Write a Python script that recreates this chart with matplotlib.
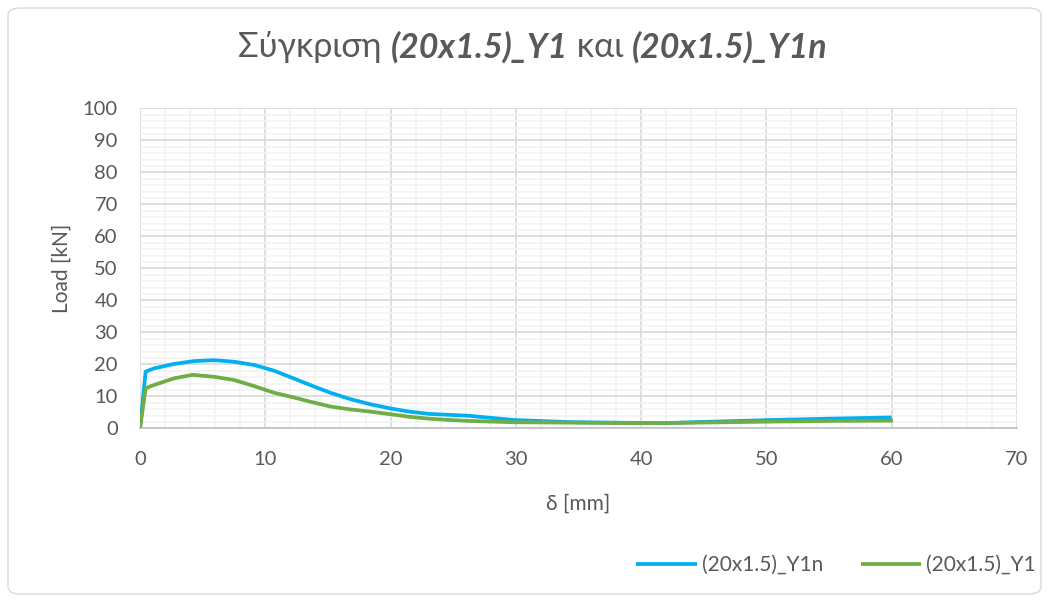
import matplotlib
matplotlib.use("Agg")
import matplotlib.pyplot as plt
from matplotlib.offsetbox import TextArea, HPacker, AnchoredOffsetbox
from matplotlib.patches import FancyBboxPatch
from matplotlib.ticker import MultipleLocator

plt.rcParams['font.family'] = ['Lato', 'DejaVu Sans']

# Load–displacement curves
delta_y1n = [0.0, 0.45, 1.1, 2.7, 4.3, 5.9, 7.5, 9.1, 10.7, 12.0, 13.6, 15.2, 16.8,
             18.4, 20.0, 21.5, 23.1, 24.7, 26.3, 27.1, 29.8, 34.6, 42.0, 45.0,
             50.5, 55.0, 60.0]
load_y1n = [0.0, 17.7, 18.7, 20.1, 21.0, 21.3, 20.8, 19.8, 18.0, 16.0, 13.5, 11.1, 9.1,
            7.5, 6.2, 5.2, 4.5, 4.2, 3.9, 3.6, 2.6, 1.9, 1.6, 2.0,
            2.6, 3.0, 3.4]

delta_y1 = [0.0, 0.45, 1.1, 2.7, 4.2, 5.9, 7.5, 9.1, 10.7, 12.0, 13.6, 15.2, 16.8,
            18.4, 20.0, 21.5, 23.1, 24.7, 26.3, 29.8, 39.9, 45.0, 50.5, 55.0, 60.1]
load_y1 = [0.0, 12.5, 13.5, 15.6, 16.7, 16.1, 15.1, 13.2, 11.1, 9.9, 8.3, 6.8, 5.9,
           5.2, 4.4, 3.6, 3.0, 2.6, 2.3, 1.9, 1.6, 1.8, 2.1, 2.3, 2.4]

x_ticks = [0, 10, 20, 30, 40, 50, 60, 70]
y_ticks = [0, 10, 20, 30, 40, 50, 60, 70, 80, 90, 100]

label_y1n = "(20x1.5)_Y1n"
label_y1 = "(20x1.5)_Y1"

text_gray = '#595959'
blue = '#00b0f0'
green = '#70ad47'

fig = plt.figure(figsize=(10.49, 6.02), dpi=100)
fig.patch.set_facecolor('white')

# rounded chart-area frame
frame = FancyBboxPatch((8 / 1049, 8 / 602), 1033 / 1049, 586 / 602,
                       boxstyle="round,pad=0,rounding_size=0.012",
                       transform=fig.transFigure, facecolor='none',
                       edgecolor='#d9d9d9', linewidth=1.0, zorder=-1)
fig.patches.append(frame)

ax = fig.add_axes([140 / 1049, 173.7 / 602, 877 / 1049, 320 / 602])
ax.set_facecolor('none')

ax.plot(delta_y1n, load_y1n, color=blue, linewidth=2.7, label=label_y1n,
        solid_joinstyle='round', solid_capstyle='butt', zorder=3)
ax.plot(delta_y1, load_y1, color=green, linewidth=2.7, label=label_y1,
        solid_joinstyle='round', solid_capstyle='butt', zorder=4)

ax.set_xlim(0, 70)
ax.set_ylim(0, 100)
ax.set_xticks(x_ticks)
ax.set_yticks(y_ticks)
ax.xaxis.set_minor_locator(MultipleLocator(2))
ax.yaxis.set_minor_locator(MultipleLocator(2))
ax.grid(which='major', color='#d9d9d9', linewidth=1.2, zorder=1)
ax.grid(which='minor', color='#f2f2f2', linewidth=1.2, zorder=0)
ax.set_axisbelow(True)

for side in ['top', 'right', 'left']:
    ax.spines[side].set_visible(False)
ax.spines['bottom'].set_color('#bfbfbf')
ax.spines['bottom'].set_linewidth(1.2)

ax.tick_params(which='both', length=0, labelsize=14.5, colors=text_gray)
ax.tick_params(axis='y', pad=16)
ax.tick_params(axis='x', pad=16)
ax.set_xlabel('δ [mm]', fontsize=15, color=text_gray, labelpad=19)
ax.set_ylabel('Load [kN]', fontsize=15, color=text_gray, labelpad=8)

# mixed-style title
title_size = 24.5
parts = [
    ("Σύγκριση ", dict(weight='normal', style='normal')),
    ("(20x1.5)_Y1", dict(weight='bold', style='italic')),
    (" και ", dict(weight='normal', style='normal')),
    ("(20x1.5)_Y1n", dict(weight='bold', style='italic')),
]
areas = [TextArea(t, textprops=dict(fontsize=title_size, color=text_gray, **p))
         for t, p in parts]
box = HPacker(children=areas, align='baseline', pad=0, sep=0)
anchored = AnchoredOffsetbox(loc='center', child=box, pad=0, frameon=False,
                             bbox_to_anchor=(533 / 1049, 1 - 47 / 602),
                             bbox_transform=fig.transFigure, borderpad=0)
fig.add_artist(anchored)

leg = fig.legend(loc='center', bbox_to_anchor=(836 / 1049, 1 - 565 / 602),
                 ncol=2, frameon=False, fontsize=15, handlelength=2.9,
                 columnspacing=1.8, handletextpad=0.25)
for t in leg.get_texts():
    t.set_color(text_gray)

fig.savefig('out.png', dpi=100, facecolor='white')
